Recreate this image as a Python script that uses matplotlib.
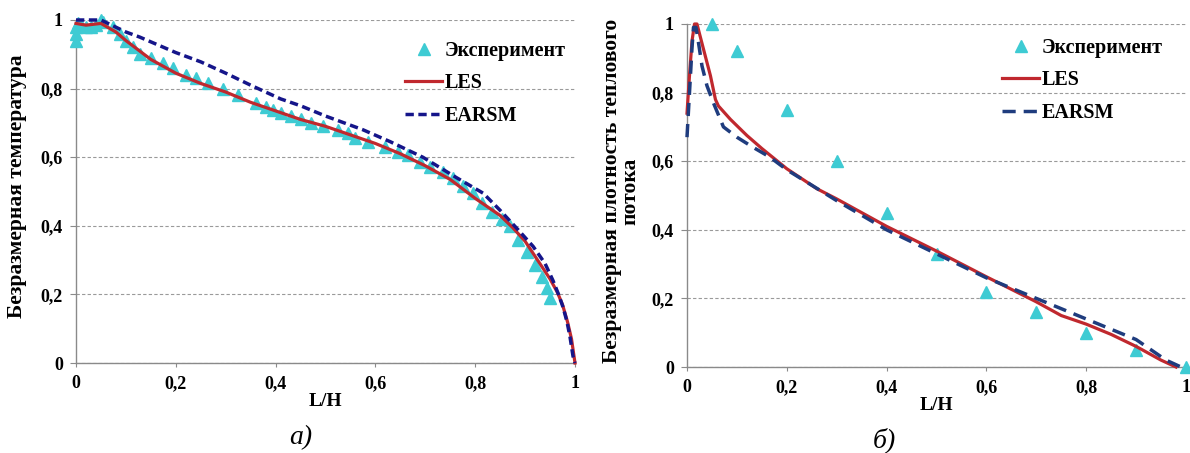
import matplotlib
matplotlib.use("Agg")
import matplotlib.pyplot as plt

plt.rcParams["font.family"] = ["Liberation Serif", "DejaVu Serif"]
plt.rcParams["font.weight"] = "bold"

# ---- panel a: dimensionless temperature ----
exp_a_x = [0, 0, 0, 0.005, 0.01, 0.02, 0.03, 0.04, 0.05, 0.055, 0.075, 0.088, 0.10, 0.115,
           0.128, 0.15, 0.175, 0.195, 0.22, 0.24, 0.265, 0.295, 0.325, 0.36, 0.38, 0.395,
           0.41, 0.43, 0.45, 0.47, 0.495, 0.525, 0.545, 0.56, 0.585, 0.62, 0.645, 0.665,
           0.69, 0.71, 0.735, 0.755, 0.775, 0.795, 0.813, 0.833, 0.853, 0.87, 0.886, 0.903,
           0.92, 0.933, 0.943, 0.95]
exp_a_y = [0.94, 0.96, 0.98, 0.99, 0.985, 0.98, 0.98, 0.985, 1.0, 0.995, 0.98, 0.96, 0.94, 0.92,
           0.90, 0.89, 0.875, 0.86, 0.84, 0.83, 0.815, 0.80, 0.78, 0.757, 0.745, 0.737,
           0.73, 0.72, 0.71, 0.70, 0.69, 0.68, 0.67, 0.655, 0.645, 0.63, 0.615, 0.605,
           0.585, 0.57, 0.557, 0.54, 0.515, 0.495, 0.466, 0.44, 0.42, 0.40, 0.36, 0.325,
           0.285, 0.25, 0.22, 0.19]

les_a_x = [0, 0.02, 0.05, 0.08, 0.1, 0.15, 0.2, 0.25, 0.3, 0.35, 0.4, 0.45, 0.5, 0.55, 0.6,
           0.65, 0.7, 0.75, 0.8, 0.85, 0.875, 0.9, 0.925, 0.95, 0.965, 0.975, 0.985, 0.993, 1.0]
les_a_y = [0.99, 0.985, 0.99, 0.965, 0.94, 0.885, 0.845, 0.815, 0.79, 0.76, 0.735, 0.71, 0.69,
           0.665, 0.64, 0.61, 0.575, 0.535, 0.48, 0.43, 0.395, 0.355, 0.30, 0.245, 0.205,
           0.17, 0.12, 0.07, 0.0]

earsm_a_x = [0, 0.05, 0.1, 0.128, 0.2, 0.25, 0.3, 0.35, 0.41, 0.45, 0.5, 0.575, 0.63, 0.695,
             0.763, 0.816, 0.85, 0.885, 0.916, 0.94, 0.956, 0.967, 0.976, 0.984, 0.99, 0.996, 1.0]
earsm_a_y = [1.0, 1.0, 0.965, 0.95, 0.905, 0.878, 0.845, 0.81, 0.77, 0.75, 0.72, 0.68, 0.645,
             0.60, 0.54, 0.495, 0.445, 0.39, 0.34, 0.29, 0.24, 0.20, 0.163, 0.12, 0.076, 0.02, 0.0]

# ---- panel b: dimensionless heat flux ----
exp_b_x = [0.05, 0.1, 0.2, 0.3, 0.4, 0.5, 0.6, 0.7, 0.8, 0.9, 1.0]
exp_b_y = [1.0, 0.92, 0.75, 0.60, 0.45, 0.33, 0.22, 0.16, 0.10, 0.05, 0.0]

les_b_x = [0, 0.005, 0.01, 0.015, 0.02, 0.033, 0.047, 0.057, 0.063, 0.087, 0.12, 0.15,
           0.2, 0.26, 0.3, 0.4, 0.5, 0.6, 0.7, 0.75, 0.8, 0.85, 0.9, 0.95, 0.98]
les_b_y = [0.74, 0.85, 0.95, 1.0, 1.0, 0.927, 0.849, 0.78, 0.761, 0.722, 0.675, 0.637,
           0.578, 0.52, 0.49, 0.41, 0.338, 0.263, 0.19, 0.15, 0.125, 0.095, 0.06, 0.02, 0.0]

earsm_b_x = [0, 0.005, 0.01, 0.013, 0.018, 0.023, 0.03, 0.04, 0.053, 0.073, 0.1, 0.133, 0.166,
             0.2, 0.3, 0.4, 0.5, 0.6, 0.7, 0.8, 0.9, 0.96, 0.99]
earsm_b_y = [0.67, 0.8, 0.93, 0.99, 0.99, 0.946, 0.878, 0.82, 0.77, 0.70, 0.67, 0.64, 0.612,
             0.575, 0.485, 0.40, 0.33, 0.26, 0.20, 0.14, 0.08, 0.02, 0.0]

yticks = [0, 0.2, 0.4, 0.6, 0.8, 1.0]
xticks = [0, 0.2, 0.4, 0.6, 0.8, 1.0]
tick_labels = ["0", "0,2", "0,4", "0,6", "0,8", "1"]

EXP_COLOR = "#3ECBD3"
LES_COLOR = "#C0282E"

W, H = 1190, 453
fig = plt.figure(figsize=(W / 100, H / 100), dpi=100)


def px_axes(x0, x1, ytop, ybot):
    return fig.add_axes([x0 / W, 1 - ybot / H, (x1 - x0) / W, (ybot - ytop) / H])


def style_axes(ax):
    ax.set_xlim(0, 1)
    ax.set_ylim(0, 1)
    ax.set_xticks(xticks)
    ax.set_xticklabels(tick_labels)
    ax.set_yticks(yticks)
    ax.set_yticklabels(tick_labels)
    for side in ("top", "right"):
        ax.spines[side].set_visible(False)
    for side in ("left", "bottom"):
        ax.spines[side].set_color("#8a8a8a")
        ax.spines[side].set_linewidth(1)
    ax.tick_params(axis="x", direction="out", length=3, color="#8a8a8a", pad=6,
                   labelsize=13)
    ax.tick_params(axis="y", direction="out", length=4.5, color="#8a8a8a", pad=5,
                   labelsize=13)
    for lab in ax.get_xticklabels() + ax.get_yticklabels():
        lab.set_fontweight("bold")
    ax.yaxis.grid(True, linestyle=(0, (3, 2)), color="#9a9a9a", linewidth=0.8)
    ax.set_axisbelow(True)


legend_kw = dict(bbox_transform=fig.transFigure, frameon=False, loc="upper left",
                 prop={"weight": "bold", "size": 14.5}, handlelength=1.85,
                 handletextpad=0.1, labelspacing=0.62, borderpad=0, borderaxespad=0,
                 numpoints=1)

# panel a
ax1 = px_axes(76, 575, 20, 363)
style_axes(ax1)
ax1.plot(exp_a_x, exp_a_y, linestyle="none", marker="^", markersize=8,
         color=EXP_COLOR, clip_on=False, zorder=3, label="Эксперимент")
ax1.plot(les_a_x, les_a_y, color=LES_COLOR, linewidth=2.3, zorder=4, clip_on=False, label="LES")
ax1.plot(earsm_a_x, earsm_a_y, color="#15158A", linewidth=2.5, dashes=(2.4, 1.3),
         zorder=5, clip_on=False, label="EARSM")
ax1.set_xlabel("L/H", fontsize=14, fontweight="bold")
ax1.xaxis.set_label_coords(0.5, -0.087)
ax1.set_ylabel("Безразмерная температура", fontsize=15.5, fontweight="bold")
ax1.yaxis.set_label_coords(-0.118, 0.515)
ax1.yaxis.label.set_va("center")
ax1.legend(bbox_to_anchor=(405 / W, 1 - 41 / H), **legend_kw)

# panel b
ax2 = px_axes(687, 1186, 24, 367)
style_axes(ax2)
ax2.plot(exp_b_x, exp_b_y, linestyle="none", marker="^", markersize=8,
         color=EXP_COLOR, clip_on=False, zorder=3, label="Эксперимент")
ax2.plot(les_b_x, les_b_y, color=LES_COLOR, linewidth=2.3, zorder=4, clip_on=False, label="LES")
ax2.plot(earsm_b_x, earsm_b_y, color="#1F3C7E", linewidth=2.5, dashes=(3.8, 2.3),
         zorder=5, clip_on=False, label="EARSM")
ax2.set_xlabel("L/H", fontsize=14, fontweight="bold")
ax2.xaxis.set_label_coords(0.5, -0.087)
ax2.set_ylabel("Безразмерная плотность теплового\nпотока", fontsize=15.5,
               fontweight="bold", linespacing=0.95)
ax2.yaxis.set_label_coords(-0.132, 0.513)
ax2.yaxis.label.set_va("center")
ax2.legend(bbox_to_anchor=(1002 / W, 1 - 38 / H), **legend_kw)

# captions
fig.text(301 / W, 1 - 438 / H, "а)", fontsize=20, style="italic", fontweight="normal",
         ha="center", va="center")
fig.text(884 / W, 1 - 440 / H, "б)", fontsize=20, style="italic", fontweight="normal",
         ha="center", va="center")

fig.savefig("out.png", dpi=100)
